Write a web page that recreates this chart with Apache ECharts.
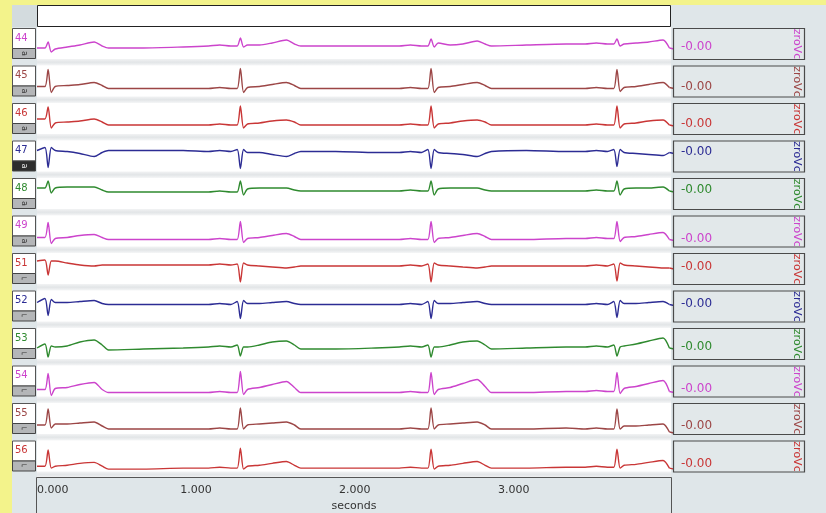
<!DOCTYPE html>
<html>
<head>
<meta charset="utf-8">
<script src="https://cdn.jsdelivr.net/npm/echarts@6/dist/echarts.min.js"></script>
<style>
  html, body { margin: 0; padding: 0; background: #f3f38b; }
  #main { width: 826px; height: 513px; }
</style>
</head>
<body>
<div id="main"></div>
<script>
// time samples (s), shared by all leads
var seconds = [
  0.00, 0.05, 0.07, 0.09, 0.115, 0.19, 0.27, 0.36, 0.41, 0.45, 0.67, 0.92,
  1.08, 1.15, 1.22, 1.26, 1.28, 1.30, 1.325, 1.40, 1.48, 1.57, 1.62, 1.66, 1.88, 2.13,
  2.28, 2.35, 2.42, 2.46, 2.48, 2.50, 2.525, 2.60, 2.68, 2.77, 2.82, 2.86, 3.08, 3.33,
  3.45, 3.52, 3.59, 3.63, 3.65, 3.67, 3.695, 3.77, 3.85, 3.94, 3.98
];

// lead traces
var ch44 = [-4,-4,2,-8,-5,-3,-1,2,-2,-4,-4,-3,
  -2,-1,-2,-2,6,-3,-1,-1,1,4,0,-2,-2,-2,
  -2,-1,-2,-2,5,-3,1,-1,0,3,0,-2,-1,0,
  0,1,0,0,5,-2,0,1,2,4,-4];
var ch45 = [-5,-5,12,-11,-5,-4,-3,-1,-4,-7,-7,-7,
  -7,-6,-7,-7,13,-11,-6,-5,-3,-1,-4,-7,-7,-7,
  -7,-6,-7,-7,13,-11,-6,-5,-3,-1,-4,-7,-7,-7,
  -7,-6,-7,-7,12,-10,-6,-5,-3,-1,-6];
var ch46 = [0,0,12,-9,-4,-3,-2,0,-3,-6,-6,-6,
  -6,-5,-6,-6,13,-9,-5,-4,-2,-1,-3,-6,-6,-6,
  -6,-5,-6,-6,13,-9,-5,-4,-2,-1,-3,-6,-6,-6,
  -6,-5,-6,-6,13,-9,-5,-4,-2,-1,-6];
var ch47 = [6,9,-11,9,6,5,3,0,4,6,6,6,
  5,6,5,7,-12,7,4,4,2,0,3,5,5,4,
  4,5,4,7,-12,7,4,3,2,0,3,5,6,5,
  5,6,5,7,-10,7,4,3,2,1,4];
var ch48 = [6,6,13,1,6,7,7,7,4,2,2,2,
  2,3,2,2,13,-1,5,6,6,6,4,3,3,3,
  3,4,3,3,13,-1,5,6,6,6,4,3,3,3,
  3,4,3,3,13,-1,5,6,6,7,3];
var ch49 = [-6,-6,9,-12,-7,-6,-4,-3,-6,-8,-8,-8,
  -8,-7,-8,-8,10,-11,-7,-6,-4,-2,-5,-8,-8,-8,
  -8,-7,-8,-8,10,-11,-7,-6,-4,-2,-5,-8,-8,-7,
  -7,-6,-7,-7,10,-10,-6,-5,-3,-1,-8];
var ch51 = [8,9,-6,8,8,6,4,3,4,4,4,4,
  4,5,4,5,-13,6,4,3,2,1,2,3,3,3,
  3,4,3,5,-13,6,4,3,2,1,2,3,3,3,
  3,4,3,5,-12,6,4,3,2,1,1];
var ch52 = [4,8,-9,7,4,4,5,6,3,2,2,2,
  2,3,2,5,-12,6,3,3,4,5,3,2,2,2,
  2,3,2,5,-12,6,3,3,4,5,3,2,2,2,
  2,3,2,5,-11,6,3,3,4,5,2];
var ch53 = [-4,0,-13,-2,-3,-2,2,4,-1,-6,-5,-4,
  -3,-2,-3,-1,-12,-3,-3,-1,2,3,-1,-5,-5,-4,
  -3,-2,-3,-1,-13,-3,-3,-1,2,3,-1,-5,-4,-3,
  -3,-2,-3,-1,-12,-3,-2,0,3,6,-4];
var ch54 = [-8,-8,8,-14,-7,-6,-3,-1,-8,-11,-11,-11,
  -11,-10,-11,-11,10,-13,-8,-6,-3,0,-6,-11,-11,-11,
  -11,-10,-11,-11,9,-13,-8,-6,-2,2,-5,-11,-11,-10,
  -10,-9,-10,-10,9,-12,-7,-5,-2,1,-10];
var ch55 = [-6,-6,10,-9,-5,-5,-4,-3,-7,-10,-10,-10,
  -10,-9,-10,-10,11,-10,-6,-5,-4,-3,-6,-10,-10,-10,
  -10,-9,-10,-10,11,-10,-6,-5,-4,-3,-6,-10,-10,-9,
  -10,-9,-10,-10,10,-10,-7,-7,-6,-5,-13];
var ch56 = [-11,-11,6,-13,-11,-10,-8,-7,-11,-14,-14,-13,
  -13,-12,-13,-13,8,-14,-11,-10,-8,-6,-10,-13,-13,-13,
  -13,-12,-13,-13,7,-14,-11,-10,-8,-6,-10,-13,-13,-12,
  -12,-11,-12,-12,7,-13,-10,-9,-7,-5,-13];

var leads = ['44','45','46','47','48','49','51','52','53','54','55','56'];
var traces = [ch44, ch45, ch46, ch47, ch48, ch49, ch51, ch52, ch53, ch54, ch55, ch56];
var readouts = ['-0.00','-0.00','-0.00','-0.00','-0.00','-0.00','-0.00','-0.00','-0.00','-0.00','-0.00','-0.00'];
var xTicks = [0, 1, 2, 3];

var MAG = '#cc44cc', BRN = '#9c4646', RED = '#c93636', BLU = '#2c2c94', GRN = '#2f8a2f';
var colors = [MAG, BRN, RED, BLU, GRN, MAG, RED, BLU, GRN, MAG, BRN, RED];

var rowTop0 = 28, rowStep = 37.5, rowH = 32;
var plotL = 37, plotW = 634, xMax = 3.99;
var font = 'DejaVu Sans';

var myChart = echarts.init(document.getElementById('main'));

var grids = [], xAxes = [], yAxes = [], series = [];
leads.forEach(function (name, i) {
    var last = i === leads.length - 1;
    grids.push({ left: plotL, width: plotW, top: rowTop0 + i * rowStep, height: rowH });
    xAxes.push({
        type: 'value', gridIndex: i, min: 0, max: xMax, interval: 1,
        axisLine: { show: false }, axisTick: { show: false }, splitLine: { show: false },
        axisLabel: {
            show: last, margin: 14, color: '#333', fontFamily: font, fontSize: 11,
            alignMinLabel: 'left',
            formatter: function (v) { return xTicks.indexOf(v) >= 0 ? v.toFixed(3) : ''; }
        },
        name: last ? 'seconds' : '', nameLocation: 'middle', nameGap: 30,
        nameTextStyle: { color: '#333', fontFamily: font, fontSize: 11 }
    });
    yAxes.push({ type: 'value', gridIndex: i, min: -16, max: 16, show: false });
    series.push({
        type: 'line', xAxisIndex: i, yAxisIndex: i, showSymbol: false, z: 5,
        smooth: 0.25,
        lineStyle: { color: colors[i], width: 1.4 },
        data: seconds.map(function (t, k) { return [t, traces[i][k]]; })
    });
});

// frame, rows and side boxes
var g = [];
g.push({ type: 'rect', z: -5, shape: { x: 12, y: 5, width: 814, height: 508 }, style: { fill: '#dfe6e9' } });
g.push({ type: 'rect', z: -4, shape: { x: 12, y: 5, width: 25, height: 22 }, style: { fill: '#d3dbde' } });
g.push({ type: 'rect', z: -4, shape: { x: 37.5, y: 5.5, width: 633, height: 21 }, style: { fill: '#fff', stroke: '#222', lineWidth: 1 } });
g.push({ type: 'rect', z: -4, shape: { x: plotL, y: 27, width: plotW, height: 450 }, style: { fill: '#fff' } });
leads.forEach(function (name, i) {
    var top = rowTop0 + i * rowStep;
    g.push({ type: 'rect', z: -3, shape: { x: plotL, y: top + 31, width: plotW, height: 6.5 },
        style: { fill: new echarts.graphic.LinearGradient(0, 0, 0, 1, [
            { offset: 0, color: '#f2f3f4' }, { offset: 0.5, color: '#e2e5e7' }, { offset: 1, color: '#f5f6f7' }]) } });
    // lead number box
    g.push({ type: 'rect', z: 8, shape: { x: 12.5, y: top + 0.5, width: 23, height: 20 }, style: { fill: '#fff', stroke: '#555', lineWidth: 1 } });
    g.push({ type: 'text', z: 9, x: 15, y: top + 10, style: { text: name, fill: colors[i], font: '10px ' + font, textVerticalAlign: 'middle' } });
    var dark = i === 3;
    g.push({ type: 'rect', z: 8, shape: { x: 12.5, y: top + 20.5, width: 23, height: 10 }, style: { fill: dark ? '#2d2d2d' : '#b4b6b8', stroke: '#444', lineWidth: 1 } });
    g.push({ type: 'text', z: 9, x: 24, y: top + 25.5, rotation: i < 6 ? -Math.PI / 2 : 0,
        style: { text: i < 6 ? 'a' : '⌐', fill: dark ? '#eee' : '#333', font: '8px ' + font, textAlign: 'center', textVerticalAlign: 'middle' } });
    // readout box
    g.push({ type: 'rect', z: 8, shape: { x: 673.5, y: top + 0.5, width: 131, height: 31 }, style: { fill: '#e2e8ea', stroke: '#4a4a4a', lineWidth: 1.2 } });
    g.push({ type: 'text', z: 9, x: 797, y: top + 16, rotation: -Math.PI / 2,
        style: { text: 'zroVc', fill: colors[i], font: '11px ' + font, textAlign: 'center', textVerticalAlign: 'middle' } });
});
// time axis box
g.push({ type: 'polyline', z: 8, shape: { points: [[36.5, 513], [36.5, 477.5], [671.5, 477.5], [671.5, 513]] }, style: { stroke: '#555', fill: null, lineWidth: 1 } });

myChart.setOption({
    animation: false,
    backgroundColor: '#f3f38b',
    grid: grids,
    xAxis: xAxes,
    yAxis: yAxes,
    series: series,
    graphic: g
});

// readout values sit where each trace meets its box
var extra = [];
leads.forEach(function (name, i) {
    var tr = traces[i];
    var p = myChart.convertToPixel({ gridIndex: i }, [seconds[seconds.length - 1], tr[tr.length - 1]]);
    var top = rowTop0 + i * rowStep;
    var y = Math.max(top + 10, Math.min(top + 23, p[1] - 1));
    extra.push({ type: 'polyline', z: 6, shape: { points: [[p[0], p[1]], [674, p[1] + 1]] }, style: { stroke: colors[i], lineWidth: 1.4 } });
    extra.push({ type: 'text', z: 9, x: 681, y: y, style: { text: readouts[i], fill: colors[i], font: '12px ' + font, textVerticalAlign: 'middle' } });
});
myChart.setOption({ graphic: g.concat(extra) });
</script>
</body>
</html>
